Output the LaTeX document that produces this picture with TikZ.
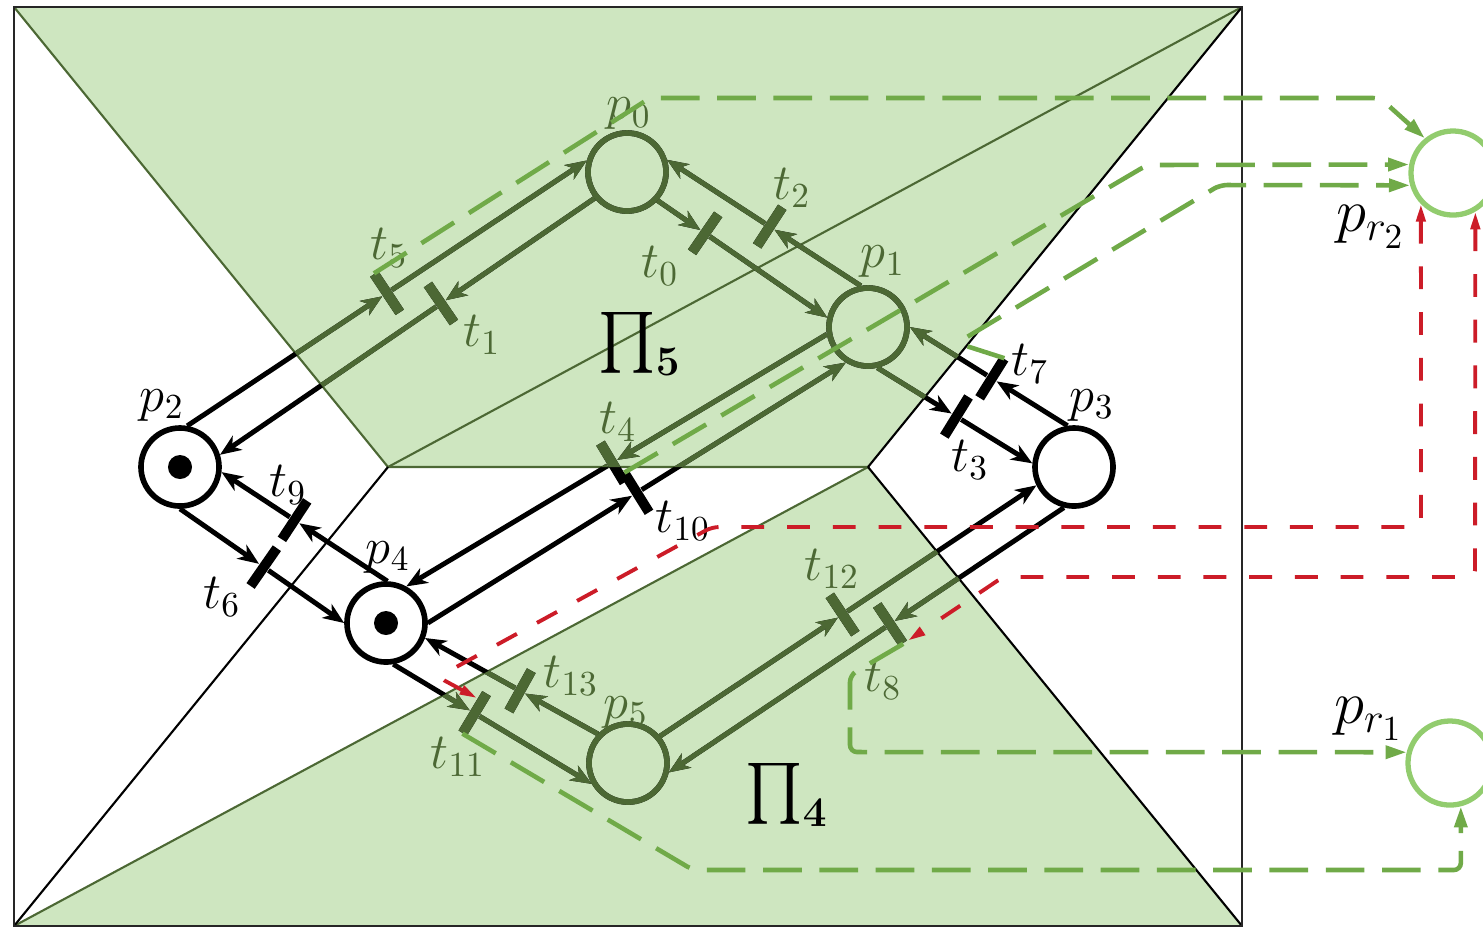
\documentclass[tikz,border=0pt]{standalone}
\usepackage{amsmath,amssymb}
\usepackage{tikz}
\usetikzlibrary{arrows.meta, calc}

\definecolor{zonefill}{RGB}{206,230,192}
\definecolor{netgreen}{RGB}{76,104,52}
\definecolor{linkgreen}{RGB}{112,170,72}
\definecolor{rplacec}{RGB}{146,204,110}
\definecolor{linkred}{RGB}{204,28,40}
\colorlet{netc}{black}

% the whole net; drawn once in black and once clipped to the green zones
\newcommand{\drawnet}{%
  % places
  \node[place] (p0) at (627,172) {};
  \node[place] (p1) at (868,327) {};
  \node[place] (p2) at (180,467) {};
  \node[place] (p3) at (1074,467) {};
  \node[place] (p4) at (386,623) {};
  \node[place] (p5) at (628,763) {};
  \node[token] (m2) at (p2) {};
  \node[token] (m4) at (p4) {};
  % transitions sit on the arc they cut
  \path (p2.80)  -- node[tbar, pos=.50] (t5)  {} (p0.164);
  \path (p0.219) -- node[tbar, pos=.41] (t1)  {} (p2.17);
  \path (p0.317) -- node[tbar, pos=.28] (t0)  {} (p1.167);
  \path (p1.100) -- node[tbar, pos=.47] (t2)  {} (p0.17);
  \path (p3.99)  -- node[tbar, pos=.48] (t7)  {} (p1.0);
  \path (p1.283) -- node[tbar, pos=.51] (t3)  {} (p3.175);
  \path (p1.190) -- node[tbar, pos=.51] (t4)  {} (p4.61);
  \path (p4.0)   -- node[tbar, pos=.50] (t10) {} (p1.238);
  \path (p4.88)  -- node[tbar, pos=.56] (t9)  {} (p2.353);
  \path (p2.270) -- node[tbar, pos=.51] (t6)  {} (p4.180);
  \path (p4.280) -- node[tbar, pos=.41] (t11) {} (p5.210);
  \path (p5.136) -- node[tbar, pos=.45] (t13) {} (p4.339);
  \path (p5.40)  -- node[tbar, pos=.485] (t12) {} (p3.206);
  \path (p3.256) -- node[tbar, pos=.44] (t8)  {} (p5.347);
  % arcs
  \draw[arc] (p2.80)  -- (t5);  \draw[arc] (t5)  -- (p0.164);
  \draw[arc] (p0.219) -- (t1);  \draw[arc] (t1)  -- (p2.17);
  \draw[arc] (p0.317) -- (t0);  \draw[arc] (t0)  -- (p1.167);
  \draw[arc] (p1.100) -- (t2);  \draw[arc] (t2)  -- (p0.17);
  \draw[arc] (p3.99)  -- (t7);  \draw[arc] (t7)  -- (p1.0);
  \draw[arc] (p1.283) -- (t3);  \draw[arc] (t3)  -- (p3.175);
  \draw[arc] (p1.190) -- (t4);  \draw[arc] (t4)  -- (p4.61);
  \draw[arc] (p4.0)   -- (t10); \draw[arc] (t10) -- (p1.238);
  \draw[arc] (p4.88)  -- (t9);  \draw[arc] (t9)  -- (p2.353);
  \draw[arc] (p2.270) -- (t6);  \draw[arc] (t6)  -- (p4.180);
  \draw[arc] (p4.280) -- (t11); \draw[arc] (t11) -- (p5.210);
  \draw[arc] (p5.136) -- (t13); \draw[arc] (t13) -- (p4.339);
  \draw[arc] (p5.40)  -- (t12); \draw[arc] (t12) -- (p3.206);
  \draw[arc] (p3.256) -- (t8);  \draw[arc] (t8)  -- (p5.347);
}

\begin{document}
\begin{tikzpicture}[
    x=0.01cm, y=-0.01cm,
    >={Stealth[length=6pt,width=4.8pt,inset=1.8pt]},
    place/.style ={circle, draw=netc, line width=1.6pt, minimum size=0.78cm, inner sep=0pt},
    token/.style ={circle, fill=black, minimum size=0.24cm, inner sep=0pt},
    tbar/.style  ={rectangle, fill=netc, minimum width=0.1cm, minimum height=0.46cm,
                   inner sep=0pt, sloped},
    arc/.style   ={->, draw=netc, line width=1.4pt},
    labg/.style  ={text=netgreen, font=\Large, inner sep=0pt},
    labk/.style  ={text=black, font=\Large, inner sep=0pt},
    zone/.style  ={fill=zonefill},
    zline/.style ={draw=netgreen, line width=0.6pt},
    bline/.style ={draw=black, line width=0.6pt},
    rplace/.style={circle, draw=rplacec, line width=1.5pt, minimum size=0.84cm, inner sep=0pt},
    glink/.style ={draw=linkgreen, line width=1.3pt, dash pattern=on 11pt off 5pt,
                   rounded corners=2pt, -{Triangle[length=6pt,width=3.6pt]}},
    rlink/.style ={draw=linkred, line width=1.1pt, dash pattern=on 6.5pt off 6.5pt,
                   rounded corners=2pt,
                   {Triangle[length=5pt,width=2.6pt]}-{Triangle[length=5pt,width=2.6pt]}}
  ]
  \useasboundingbox (0,0) rectangle (1483,929);

  %% zones
  \fill[zone] (14,7) -- (1242,7) -- (868,467) -- (388,467) -- cycle;
  \fill[zone] (14,926) -- (868,467) -- (1242,926) -- cycle;
  \draw[zline] (14,7) -- (388,467) -- (868,467);
  \draw[zline] (388,467) -- (1242,7);
  \draw[zline] (14,926) -- (868,467);
  \draw[bline] (868,467) -- (1242,7);
  \draw[bline] (868,467) -- (1242,926);
  \draw[bline] (14,926) -- (388,467);
  \draw[black!85, line width=0.7pt] (14,7) rectangle (1242,926);

  %% net: black, then green inside the zones
  \drawnet
  \begin{scope}
    \clip (14,7) -- (1242,7) -- (868,467) -- (388,467) -- cycle
          (14,926) -- (868,467) -- (1242,926) -- cycle;
    \colorlet{netc}{netgreen}
    \drawnet
  \end{scope}

  %% labels of the net
  \node[labg] (lp0) at (629,114) {$p_0$};
  \node[labg] (lp1) at (883,262) {$p_1$};
  \node[labk] (lp2) at (162,405) {$p_2$};
  \node[labk] (lp3) at (1092,405) {$p_3$};
  \node[labk] (lp4) at (388,557) {$p_4$};
  \node[labg] (lp5) at (626,712) {$p_5$};
  \node[labg] (lt5)  at (389,248) {$t_5$};
  \node[labg] (lt1)  at (482,335) {$t_1$};
  \node[labg] (lt0)  at (660,266) {$t_0$};
  \node[labg] (lt2)  at (792,188) {$t_2$};
  \node[labk] (lt7)  at (1030,364) {$t_7$};
  \node[labk] (lt3)  at (970,460) {$t_3$};
  \node[labg] (lt4)  at (618,422) {$t_4$};
  \node[labk] (lt10) at (683,521) {$t_{10}$};
  \node[labk] (lt9)  at (288,485) {$t_9$};
  \node[labk] (lt6)  at (222,597) {$t_6$};
  \node[labg] (lt11) at (458,757) {$t_{11}$};
  \node[labg] (lt13) at (571,676) {$t_{13}$};
  \node[labg] (lt12) at (832,569) {$t_{12}$};
  \node[labg] (lt8)  at (883,680) {$t_8$};

  \node[font=\LARGE] (pi5) at (640,344) {$\prod_{\mathbf{5}}$};
  \node[font=\LARGE] (pi4) at (787,795) {$\prod_{\mathbf{4}}$};

  %% resource places
  \node[rplace] (pr2) at (1453,173) {};
  \node[rplace] (pr1) at (1450,763) {};
  \node[font=\LARGE] (lr2) at (1371,227) {$p_{r_2}$};
  \node[font=\LARGE] (lr1) at (1369,719) {$p_{r_1}$};

  %% bends of the resource links
  \coordinate (g1a) at (650,98);   \coordinate (g1b) at (1380,98);
  \coordinate (g2a) at (1147,165);
  \coordinate (g3a) at (957,343);  \coordinate (g3b) at (1220,185);
  \coordinate (g4a) at (850,675);  \coordinate (g4b) at (850,752);
  \coordinate (g5a) at (693,870);
  \coordinate (r1a) at (1421,527); \coordinate (r1b) at (712,527); \coordinate (r1c) at (438,677);
  \coordinate (r2a) at (1475,577); \coordinate (r2b) at (1003,577);

  \draw[glink] (t5.north) -- (g1a) -- (g1b) -- (pr2.129);
  \draw[glink] (t10.north) -- (g2a) -- (pr2.169);
  \draw[glink] (t7.north) -- (g3a) -- (g3b) -- (pr2.196);
  \draw[glink] (t8.south) -- (g4a) -- (g4b) -- (pr1.166);
  \draw[glink] (t11.south) -- (g5a) -| (pr1.284);
  \draw[rlink] (pr2.224) -- (r1a) -- (r1b) -- (r1c) -- ($(t11.west)!0.6!(t11.north west)$);
  \draw[rlink] (pr2.300) -- (r2a) -- (r2b) -- (t8.south east);
\end{tikzpicture}
\end{document}
